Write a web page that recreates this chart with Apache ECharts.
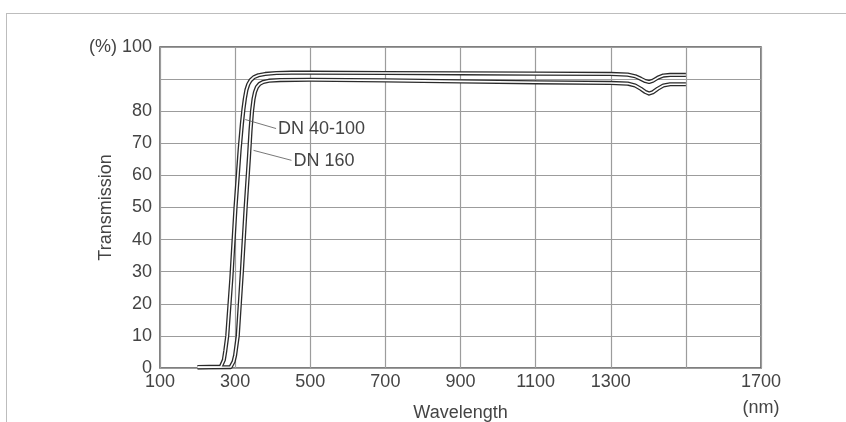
<!DOCTYPE html>
<html>
<head>
<meta charset="utf-8">
<script src="https://cdn.jsdelivr.net/npm/echarts@6/dist/echarts.min.js"></script>
<style>
  html, body { margin: 0; padding: 0; background: #fff; }
  #frame {
    position: absolute; left: 6px; top: 13px; right: 0; bottom: 0;
    border-left: 1px solid #bdbdbd; border-top: 1px solid #bdbdbd;
  }
  #chart { position: absolute; left: 0; top: 0; width: 846px; height: 422px; }
</style>
</head>
<body>
<div id="frame"></div>
<div id="chart"></div>
<script>
// wavelength (nm), transmission (%)
const dn40to100 = [
  [200, 0.3], [262, 0.4], [266, 0.9], [270, 2.5], [274, 5.5], [279, 10],
  [290, 28], [301, 50], [312, 68], [318, 76], [322, 80.5], [326, 84],
  [330, 86.6], [335, 88.4], [341, 89.6], [350, 90.6], [362, 91.2],
  [380, 91.6], [410, 91.9], [450, 92], [500, 92], [700, 91.9],
  [900, 91.8], [1100, 91.7], [1300, 91.6], [1345, 91.4], [1365, 90.9],
  [1380, 90.1], [1392, 89.4], [1402, 89.1], [1412, 89.5], [1425, 90.4],
  [1440, 91.1], [1458, 91.3], [1500, 91.3]
];
const dn160 = [
  [200, 0.2], [288, 0.3], [292, 0.8], [296, 2], [300, 4], [307, 10],
  [318, 30], [328, 50], [337, 66], [341, 74], [345, 80], [349, 83.8],
  [353, 86], [358, 87.5], [365, 88.5], [375, 89.1], [390, 89.5],
  [420, 89.7], [500, 89.8], [700, 89.6], [900, 89.3], [1100, 89],
  [1300, 88.8], [1345, 88.6], [1365, 88], [1380, 87], [1392, 86],
  [1402, 85.5], [1412, 85.9], [1425, 87], [1440, 88], [1458, 88.4], [1500, 88.4]
];
// leader lines: [from point on curve, to text anchor]
const leader40to100 = [[327, 77.4], [409, 74.6]];
const leader160 = [[349, 67.8], [450, 64.7]];

const hiddenX = [1500];
const hiddenY = [90];

const font = '"Liberation Sans", Arial, sans-serif';
const ink = '#444';

function outline(name, data, leader) {
  return {
    name: name,
    type: 'line',
    data: data,
    showSymbol: false,
    z: 3,
    lineStyle: { color: '#2b2b2b', width: 4.2, join: 'round' },
    markLine: {
      silent: true,
      symbol: 'none',
      lineStyle: { color: '#555', width: 0.8, type: 'solid' },
      label: {
        show: true,
        position: 'end',
        formatter: name,
        color: ink,
        fontFamily: font,
        fontSize: 18,
        distance: 2
      },
      data: [[{ coord: leader[0] }, { coord: leader[1] }]]
    }
  };
}

function inner(data) {
  return {
    type: 'line',
    data: data,
    showSymbol: false,
    z: 4,
    lineStyle: { color: '#fff', width: 1.6, join: 'round' }
  };
}

const chart = echarts.init(document.getElementById('chart'));
chart.setOption({
  animation: false,
  grid: {
    left: 160, right: 85, top: 47, bottom: 54,
    outerBoundsMode: 'none',
    containLabel: false,
    show: true, borderColor: '#555', borderWidth: 1.5
  },
  xAxis: {
    type: 'value',
    min: 100, max: 1700, interval: 200,
    name: 'Wavelength',
    nameLocation: 'middle',
    nameGap: 36,
    nameMoveOverlap: false,
    nameTextStyle: { color: ink, fontFamily: font, fontSize: 18 },
    axisLine: { show: false },
    axisTick: { show: false },
    axisLabel: {
      color: ink, fontFamily: font, fontSize: 18, margin: 1,
      lineHeight: 26,
      formatter: v => hiddenX.includes(v) ? '' : (v === 1700 ? '1700\n(nm)' : String(v))
    },
    splitLine: { show: true, lineStyle: { color: '#9c9c9c', width: 1.2 } }
  },
  yAxis: {
    type: 'value',
    min: 0, max: 100, interval: 10,
    name: 'Transmission',
    nameLocation: 'middle',
    nameGap: 45,
    nameMoveOverlap: false,
    nameTextStyle: { color: ink, fontFamily: font, fontSize: 18 },
    axisLine: { show: false },
    axisTick: { show: false },
    axisLabel: {
      color: ink, fontFamily: font, fontSize: 18, margin: 8,
      formatter: v => hiddenY.includes(v) ? '' : (v === 100 ? '(%) 100' : String(v))
    },
    splitLine: { show: true, lineStyle: { color: '#9c9c9c', width: 1.2 } }
  },
  series: [
    outline('DN 40-100', dn40to100, leader40to100),
    inner(dn40to100),
    outline('DN 160', dn160, leader160),
    inner(dn160)
  ]
});
</script>
</body>
</html>
